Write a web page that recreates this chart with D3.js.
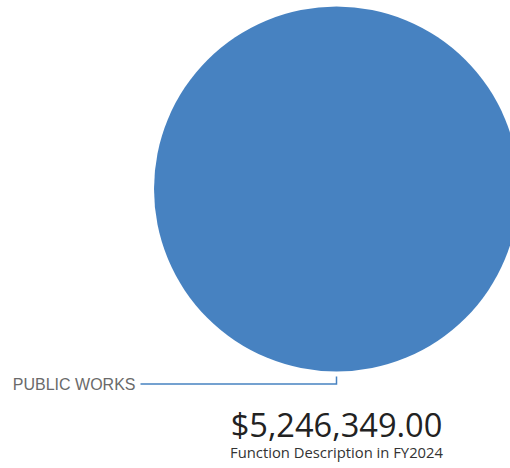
<!DOCTYPE html>
<html>
<head>
<meta charset="utf-8">
<script src="https://cdn.jsdelivr.net/npm/d3@7"></script>
<style>
  html, body { margin: 0; padding: 0; background: #fff; overflow: hidden; }
  svg { display: block; }
</style>
</head>
<body>
<svg id="chart" width="510" height="468"></svg>
<script>
// Spending by function, FY2024
const categories = ["PUBLIC WORKS"];
const amounts = [5246349.00];
const fiscalYear = "FY2024";
const colors = ["#4782c1"];

const svg = d3.select("#chart");
const cx = 336.5, cy = 189, radius = 182.5;

const pie = d3.pie().sort(null).value(d => d.value);
const arcs = pie(categories.map((c, i) => ({ name: c, value: amounts[i] })));
const arc = d3.arc().innerRadius(0).outerRadius(radius);
const color = d3.scaleOrdinal().domain(categories).range(colors);

const g = svg.append("g").attr("transform", `translate(${cx},${cy})`);
g.selectAll("path.slice")
  .data(arcs)
  .join("path")
  .attr("class", "slice")
  .attr("d", arc)
  .attr("fill", d => color(d.data.name));

// Leader lines and labels
arcs.forEach(a => {
  const mid = (a.startAngle + a.endAngle) / 2;
  // for a full circle the label sits at the bottom of the pie
  const ang = (a.endAngle - a.startAngle) >= 2 * Math.PI - 1e-6 ? Math.PI : mid;
  const x0 = Math.sin(ang) * (radius + 5);
  const y0 = -Math.cos(ang) * (radius + 5);
  const y1 = -Math.cos(ang) * (radius + 12.5);
  const xEnd = -196;
  g.append("polyline")
    .attr("points", [[x0, y0], [x0, y1], [xEnd, y1]].map(p => p.join(",")).join(" "))
    .attr("fill", "none")
    .attr("stroke", color(a.data.name))
    .attr("stroke-width", 1.5);
  g.append("text")
    .attr("x", xEnd - 5)
    .attr("y", y1)
    .attr("dy", "0.35em")
    .attr("text-anchor", "end")
    .attr("font-family", "'Liberation Sans', Arial, sans-serif")
    .attr("font-size", 16)
    .attr("fill", "#6a6a6a")
    .text(a.data.name);
});

const total = d3.sum(amounts);
svg.append("text")
  .attr("x", cx)
  .attr("y", 437)
  .attr("text-anchor", "middle")
  .attr("font-family", "'Open Sans', 'Noto Sans', sans-serif")
  .attr("font-size", 32.6)
  .attr("fill", "#222")
  .text(d3.format("$,.2f")(total));

svg.append("text")
  .attr("x", cx)
  .attr("y", 458)
  .attr("text-anchor", "middle")
  .attr("font-family", "'Open Sans', 'Noto Sans', sans-serif")
  .attr("font-size", 14.8)
  .attr("fill", "#333")
  .text(`Function Description in ${fiscalYear}`);
</script>
</body>
</html>
